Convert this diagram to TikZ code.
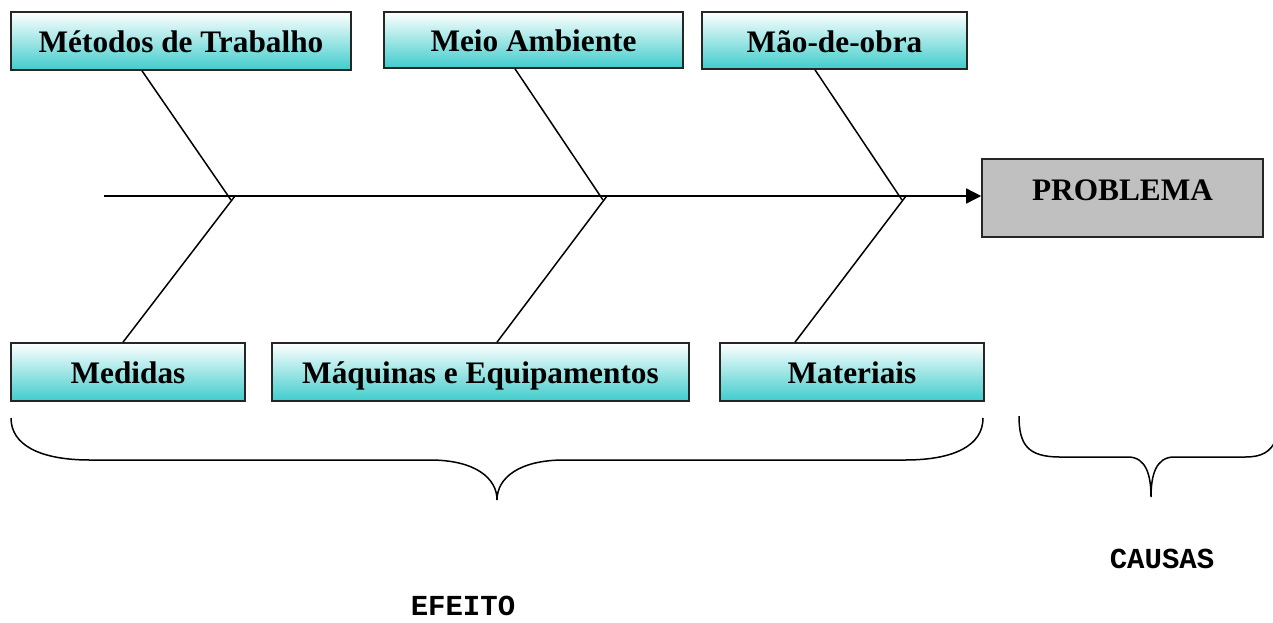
\documentclass[tikz,border=0pt]{standalone}
\usepackage{fontspec}
\setmainfont{Liberation Serif}
\newfontfamily\monob{Liberation Mono}
\usetikzlibrary{arrows.meta}
\definecolor{turq}{RGB}{64,204,204}
\definecolor{probgray}{RGB}{192,192,192}
\tikzset{
  cbox/.style={draw=black!85, line width=1.6pt, top color=white, bottom color=turq,
    font=\fontsize{31.3}{36}\selectfont\bfseries, inner sep=0pt, text height=23pt, text depth=0pt},
  probbox/.style={draw=black!85, line width=1.6pt, fill=probgray,
    font=\fontsize{31.3}{36}\selectfont\bfseries, inner sep=0pt},
  bone/.style={line width=1.5pt},
  brace/.style={line width=1.5pt},
  lbl/.style={font=\monob\fontsize{29}{33}\selectfont\bfseries, inner sep=0pt}
}
\begin{document}
\begin{tikzpicture}[x=1pt,y=-1pt]
\useasboundingbox (0,0) rectangle (1273,622);
% top boxes
\node[cbox, minimum width=340, minimum height=58] (mt) at (181,41) {Métodos de Trabalho};
\node[cbox, minimum width=299, minimum height=56] (ma) at (533.5,40) {Meio Ambiente};
\node[cbox, minimum width=265, minimum height=57] (mo) at (834.5,40.5) {Mão-de-obra};
% bottom boxes
\node[cbox, minimum width=234, minimum height=58] (me) at (128,372) {Medidas};
\node[cbox, minimum width=417, minimum height=58] (mq) at (480.5,372) {Máquinas e Equipamentos};
\node[cbox, minimum width=264, minimum height=58] (mt2) at (852,372) {Materiais};
% problem
\node[probbox, minimum width=281, minimum height=78, text height=21pt, text depth=16pt] (pb) at (1122.5,198) {PROBLEMA};
% spine
\coordinate (s0) at (104,196);
\draw[bone, -{Triangle[length=15pt,width=15pt]}] (s0) -- (pb.west |- s0);
% junctions
\coordinate (ja1) at (231,200); \coordinate (jb1) at (235,196);
\coordinate (ja2) at (603,200); \coordinate (jb2) at (607,196);
\coordinate (ja3) at (902,200); \coordinate (jb3) at (906,196);
% bones
\draw[bone] ([xshift=-39pt]mt.south) -- (ja1);
\draw[bone] (jb1) -- ([xshift=-5pt]me.north);
\draw[bone] ([xshift=-18.5pt]ma.south) -- (ja2);
\draw[bone] (jb2) -- ([xshift=16.5pt]mq.north);
\draw[bone] ([xshift=-19.5pt]mo.south) -- (ja3);
\draw[bone] (jb3) -- ([xshift=-57pt]mt2.north);
% braces
\draw[brace] (11,418) .. controls (11,445) and (40,460) .. (90,460) -- (430,460)
  .. controls (475,460) and (497,478) .. (497,500)
  .. controls (497,478) and (519,460) .. (564,460) -- (905,460)
  .. controls (955,460) and (983,445) .. (983,418);
\draw[brace] (1019,416) .. controls (1019,445) and (1028,457) .. (1060,457) -- (1128,457)
  .. controls (1146,457) and (1151,475) .. (1151,497)
  .. controls (1151,475) and (1156,457) .. (1174,457) -- (1245,457)
  .. controls (1262,457) and (1270,452) .. (1276,440);
% labels
\node[lbl] (causas) at (1162,559) {CAUSAS};
\node[lbl] (efeito) at (463,606) {EFEITO};
\end{tikzpicture}
\end{document}
